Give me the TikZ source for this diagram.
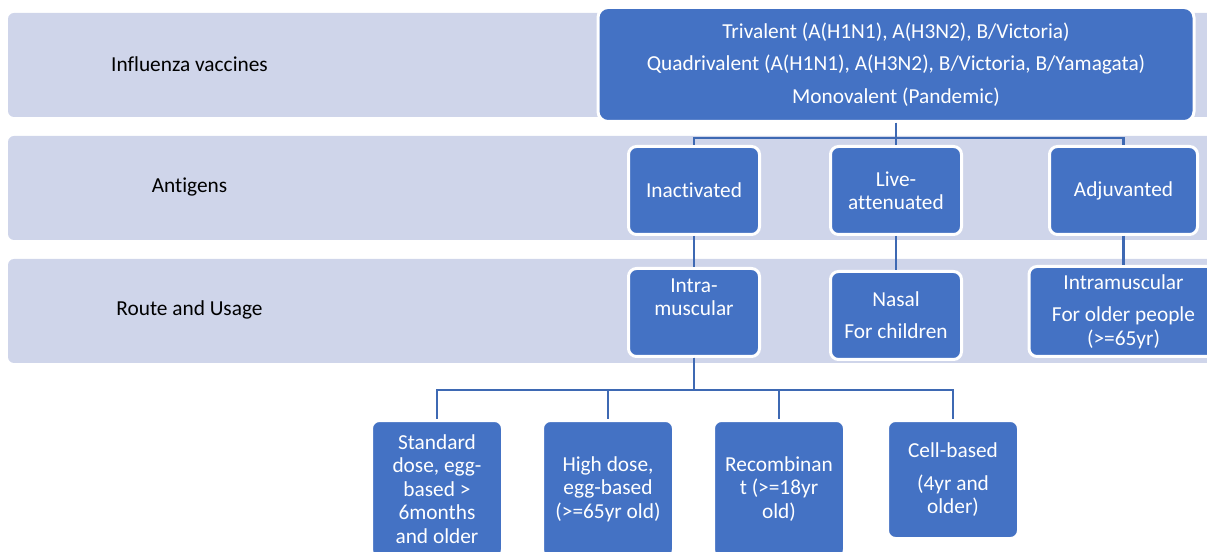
\documentclass[tikz,border=0pt]{standalone}
\usepackage{fontspec}
\setmainfont{Carlito}[Ligatures=NoCommon]
\usepackage{tikz}
\usetikzlibrary{positioning}
\definecolor{boxblue}{HTML}{4472C4}
\definecolor{bandgray}{HTML}{CFD5EA}
\definecolor{linkblue}{HTML}{3E69B3}

\begin{document}
\begin{tikzpicture}[x=0.75pt,y=-0.75pt,
	band/.style={fill=bandgray,rounded corners=4.5pt},
	vbox/.style={draw=white,line width=2.25pt,fill=boxblue,rounded corners=6pt,text=white,align=center,inner sep=0pt,font=\fontsize{16}{17.6}\selectfont},
	mid/.style={vbox,minimum width=98.25pt,minimum height=66pt},
	lab/.style={font=\fontsize{16}{17.6}\selectfont},
	link/.style={draw=linkblue,line width=2pt}]
			
			\useasboundingbox (0,0) rectangle (1207,552);
			
			\fill[band] (8,13) rectangle (1240,117);
			\fill[band] (8,136) rectangle (1240,240);
			\fill[band] (8,259) rectangle (1240,363);
			
			\node[lab] (flu) at (189.5,64) {Influenza vaccines};
			\node[lab] (antig) at (189.5,187) {Antigens};
			\node[lab] (route) at (189.5,310) {Route and Usage};
			
			\node[vbox,rounded corners=7.5pt,minimum width=447pt,minimum height=85.5pt] (vacc) at (896,64.5) {Trivalent (A(H1N1), A(H3N2), B/Victoria)\\[6.8pt]Quadrivalent (A(H1N1), A(H3N2), B/Victoria, B/Yamagata)\\[6.8pt]Monovalent (Pandemic)};
			
			\node[mid] (inact) at (694,190.5) {Inactivated};
			\node[mid] (live) at (896,190.5) {Live-\\attenuated};
			\node[mid,minimum width=111pt] (adju) at (1123.5,190.5) {Adjuvanted};
			
			\node[mid] (intra) at (694,312.5) {Intra-\\muscular\\[0.5pt]\strut};
			\node[mid] (nasal) at (896,315.5) {Nasal\\[6.4pt]For children};
			\node[vbox,minimum width=141.75pt,minimum height=67.5pt] (imold) at (1123.5,311.5) {Intramuscular\\[6.8pt]For older people\\(>=65yr)};
			
			\node[mid,minimum height=102.75pt] (std) at (437,489) {Standard\\dose, egg-\\based >\\6months\\and older};
			\node[mid,minimum height=102.75pt] (high) at (608,489) {High dose,\\egg-based\\(>=65yr old)};
			\node[mid,minimum height=102.75pt] (recomb) at (779,489) {Recombinan\\t (>=18yr\\old)};
			\node[mid,minimum height=88.5pt] (cell) at (953,479.5) {Cell-based\\[7pt](4yr and\\older)};
			
			\draw[link] (vacc.south) -- ++(0,15) -| (inact.north);
			\draw[link] (vacc.south) -- (live.north);
			\draw[link] (vacc.south) -- ++(0,15) -| (adju.north);
			
			\draw[link] (inact) -- (intra);
			\draw[link] (live) -- (nasal);
			\draw[link] (adju) -- (imold);
			
			\draw[link] (intra.south) -- ++(0,32) -| (std.north);
			\draw[link] (intra.south) -- ++(0,32) -| (high.north);
			\draw[link] (intra.south) -- ++(0,32) -| (recomb.north);
			\draw[link] (intra.south) -- ++(0,32) -| (cell.north);
			
		\end{tikzpicture}
\end{document}
